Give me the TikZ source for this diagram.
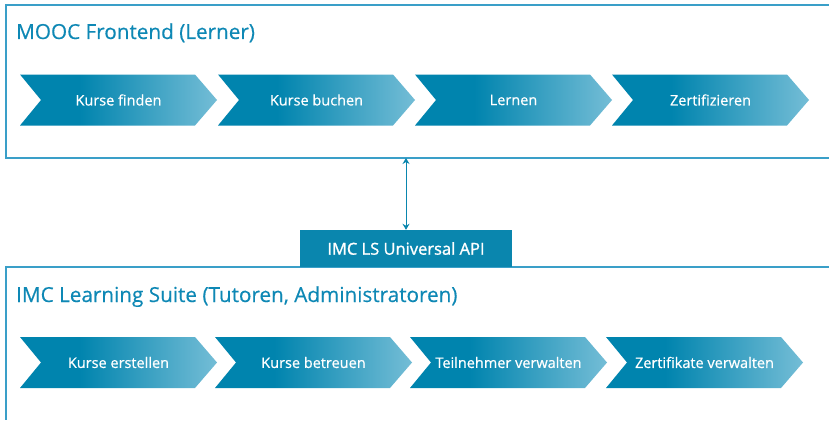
\documentclass[tikz,border=0pt]{standalone}
\usepackage{fontspec}
\setmainfont{Open Sans}
\newfontfamily\apifont[FakeBold=1.2]{Open Sans}
\newfontfamily\chevfont[FakeBold=0.6]{Open Sans}
\newfontfamily\titlefont[FakeBold=0.4]{Open Sans}
\usetikzlibrary{arrows.meta}
\definecolor{chevdark}{HTML}{0084AE}
\definecolor{chevlight}{HTML}{74BDD6}
\definecolor{titlecol}{HTML}{0E88B5}
\definecolor{bordercol}{HTML}{3A9FC8}
\definecolor{apicol}{HTML}{0A86AE}
\pgfdeclarehorizontalshading{chevshade}{100bp}{color(0bp)=(chevdark); color(25bp)=(chevdark); color(40bp)=(chevdark); color(75bp)=(chevlight); color(100bp)=(chevlight)}
\tikzset{
  chevtext/.style={text=white, font=\chevfont\fontsize{14.5}{17}\selectfont, inner sep=0pt},
  boxtitle/.style={text=titlecol, font=\titlefont\fontsize{20.7}{25}\selectfont, inner sep=0pt, anchor=base west},
  boxline/.style={draw=bordercol, line width=1.2pt},
  apibox/.style={fill=apicol, text=white, font=\apifont\fontsize{16.5}{19}\selectfont, minimum width=212pt, minimum height=37pt, inner sep=0pt},
  conn/.style={draw=apicol, line width=1pt, {Stealth[length=6pt,width=7pt]}-{Stealth[length=6pt,width=7pt]}}
}
\newcommand\chevron[4]{%
  \shade[shading=chevshade] (#2,#3) -- ++(175,0) -- ++(22,25.5) -- ++(-22,25.5) -- ++(-175,0) -- ++(21,-25.5) -- cycle;
  \node[chevtext] (#1) at (#2+98.5,#3+25.5) {#4};
}
\begin{document}
\begin{tikzpicture}[x=1pt,y=-1pt]
\useasboundingbox (0,0) rectangle (829,420);
\fill[white] (0,0) rectangle (829,420);
% top box
\draw[boxline] (829,5) -- (6,5) -- (6,158) -- (829,158);
\node[boxtitle] (toptitle) at (16,39) {MOOC Frontend (Lerner)};
\chevron{c1}{20}{74.5}{Kurse finden}
\chevron{c2}{218}{74.5}{Kurse buchen}
\chevron{c3}{415}{74.5}{Lernen}
\chevron{c4}{612}{74.5}{Zertifizieren}
\coordinate (topb) at (406,158);
% bottom box
\draw[boxline] (829,267) -- (6,267) -- (6,420);
\node[boxtitle] (bottitle) at (16,302) {IMC Learning Suite (Tutoren, Administratoren)};
\chevron{d1}{20}{337}{Kurse erstellen}
\chevron{d2}{215}{337}{Kurse betreuen}
\chevron{d3}{410}{337}{Teilnehmer verwalten}
\chevron{d4}{606}{337}{Zertifikate verwalten}
% API
\node[apibox] (api) at (406,248.5) {IMC LS Universal API};
\draw[conn] (topb) -- (api.north -| topb);
\end{tikzpicture}
\end{document}
